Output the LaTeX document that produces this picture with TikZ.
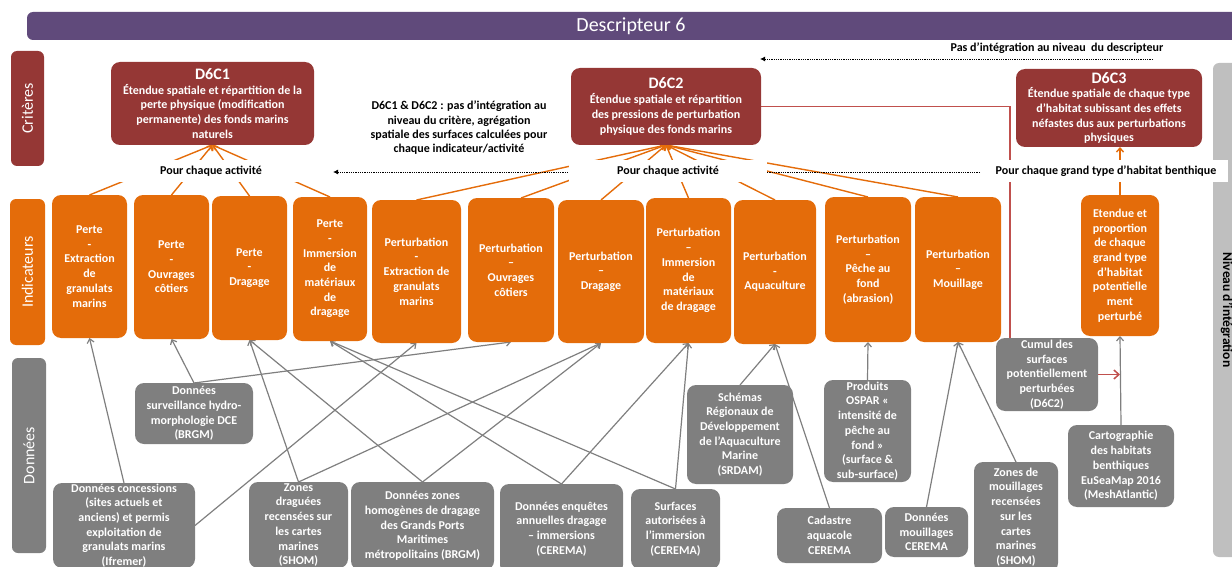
\documentclass[tikz,border=0pt]{standalone}
\usepackage{fontspec}
\setmainfont{Carlito}
\usetikzlibrary{arrows.meta,backgrounds,calc}
\definecolor{crit}{HTML}{953735}
\definecolor{ind}{HTML}{E46C0A}
\definecolor{dat}{HTML}{7F7F7F}
\definecolor{hdr}{HTML}{604A7B}
\definecolor{side}{HTML}{BFBFBF}
\definecolor{redl}{HTML}{C0504D}
\newcommand\ttlf{\fontsize{16}{18}\selectfont}
\newcommand\bx[7]{\node[#2, minimum width={#5-#3}, minimum height={#6-#4}] (#1) at ({(#3+#5)/2},{(#4+#6)/2}) {#7};}
\begin{document}
\begin{tikzpicture}[x=1pt,y=-1pt,
 every node/.style={inner sep=0pt, outer sep=0pt},
 box/.style={rounded corners=9pt, text=white, font=\bfseries\fontsize{12}{14.7}\selectfont, align=center},
 critbox/.style={box, fill=crit},
 indbox/.style={box, fill=ind},
 datbox/.style={box, fill=dat},
 sidebox/.style={rounded corners=6pt},
 sidetext/.style={text=white, font=\fontsize{16}{18}\selectfont, rotate=90},
 lab/.style={fill=white, font=\bfseries\fontsize{12}{14}\selectfont, minimum height=22pt},
 note/.style={font=\bfseries\fontsize{12}{14.3}\selectfont, align=center},
 oarr/.style={draw=ind, line width=1.4pt, -{Straight Barb[length=4pt,width=7pt]}},
 garr/.style={draw=dat, line width=1.2pt, -{Straight Barb[length=4pt,width=7pt]}},
 rline/.style={draw=redl, line width=1.5pt},
 rarr/.style={rline, -{Straight Barb[length=5pt,width=9pt]}},
 dotl/.style={draw=black, line width=0.9pt, dash pattern=on 0.9pt off 0.9pt, -{Latex[length=5pt,width=5pt]}},
]
\useasboundingbox (0,0) rectangle (1232,567);
\clip (0,0) rectangle (1232,567);

% header
\bx{hdr}{fill=hdr, sidebox}{27}{12}{1245}{40}{}
\node[text=white, font=\fontsize{20}{24}\selectfont] (hdrt) at (631,26) {Descripteur 6};

% side labels
\bx{lc}{fill=crit, sidebox}{11}{51}{44}{166}{}
\node[sidetext] (lct) at (lc) {Critères};
\bx{li}{fill=ind, sidebox}{10}{199}{45}{345}{}
\node[sidetext] (lit) at (li) {Indicateurs};
\bx{ld}{fill=dat, sidebox}{12}{358}{46}{553}{}
\node[sidetext] (ldt) at (ld) {Données};
\bx{rs}{fill=side, sidebox}{1213}{63}{1250}{557}{}
\node[rotate=-90, font=\bfseries\fontsize{13.5}{16}\selectfont] (rst) at (1227,310) {Niveau d’intégration};

% criteria
\bx{c1}{critbox}{111}{62}{314}{145}{{\ttlf D6C1}\\Étendue spatiale et répartition de la\\perte physique (modification\\permanente) des fonds marins\\naturels}
\bx{c2}{critbox}{571}{68}{761}{145}{{\ttlf D6C2}\\Étendue spatiale et répartition\\des pressions de perturbation\\physique des fonds marins}
\bx{c3}{critbox}{1016}{69}{1202}{147}{{\ttlf D6C3}\\Étendue spatiale de chaque type\\d'habitat subissant des effets\\néfastes dus aux perturbations\\physiques}

% indicators
\bx{I1}{indbox}{52}{195}{127}{338}{Perte\\-\\Extraction\\de\\granulats\\marins}
\bx{I2}{indbox}{134}{195}{209}{339}{Perte\\-\\Ouvrages\\côtiers}
\bx{I3}{indbox}{212}{196}{287}{340}{Perte\\-\\Dragage}
\bx{I4}{indbox}{293}{197}{367}{341}{Perte\\-\\Immersion\\de\\matériaux\\de\\dragage}
\bx{I5}{indbox}{372}{200}{461}{343}{Perturbation\\-\\Extraction de\\granulats\\marins}
\bx{I6}{indbox}{468}{198}{554}{342}{Perturbation\\–\\Ouvrages\\côtiers}
\bx{I7}{indbox}{558}{200}{644}{343}{Perturbation\\–\\Dragage}
\bx{I8}{indbox}{646}{198}{731}{343}{Perturbation\\–\\Immersion\\de\\matériaux\\de dragage}
\bx{I9}{indbox}{734}{200}{816}{344}{Perturbation\\-\\Aquaculture}
\bx{I10}{indbox}{825}{197}{911}{342}{Perturbation\\–\\Pêche au\\fond\\(abrasion)}
\bx{I11}{indbox}{915}{197}{1001}{342}{Perturbation\\–\\Mouillage}
\bx{I12}{indbox}{1081}{195}{1159}{336}{Etendue et\\proportion\\de chaque\\grand type\\d’habitat\\potentielle\\ment\\perturbé}

% data
\bx{Dh}{datbox}{135}{383}{253}{444}{Données\\surveillance hydro-\\morphologie DCE\\(BRGM)}
\bx{Dc}{datbox}{53}{483}{195}{568}{Données concessions\\(sites actuels et\\anciens) et permis\\exploitation de\\granulats marins\\(Ifremer)}
\bx{Dz}{datbox}{249}{482}{348}{568}{Zones\\draguées\\recensées sur\\les cartes\\marines\\(SHOM)}
\bx{Dg}{datbox}{351}{482}{494}{570}{Données zones\\homogènes de dragage\\des Grands Ports\\Maritimes\\métropolitains (BRGM)}
\bx{De}{datbox}{500}{484}{623}{574}{Données enquêtes\\annuelles  dragage\\– immersions\\(CEREMA)}
\bx{Ds}{datbox}{631}{489}{720}{569}{Surfaces\\autorisées à\\l’immersion\\(CEREMA)}
\bx{Dsr}{datbox}{687}{385}{793}{484}{Schémas\\Régionaux de\\Développement\\de l’Aquaculture\\Marine\\(SRDAM)}
\bx{Dca}{datbox}{777}{508}{882}{563}{Cadastre\\aquacole\\CEREMA}
\bx{Dp}{datbox}{824}{380}{911}{482}{Produits\\OSPAR «\\intensité de\\pêche au\\fond »\\(surface \&\\sub-surface)}
\bx{Dm}{datbox}{885}{507}{968}{557}{Données\\mouillages\\CEREMA}
\bx{Dzm}{datbox}{974}{462}{1058}{572}{Zones de\\mouillages\\recensées\\sur les\\cartes\\marines\\(SHOM)}
\bx{Dcu}{datbox}{996}{338}{1098}{411}{Cumul des\\surfaces\\potentiellement\\perturbées\\(D6C2)}
\bx{Dct}{datbox}{1068}{425}{1174}{507}{Cartographie\\des habitats\\benthiques\\EuSeaMap 2016\\(MeshAtlantic)}

% labels and notes
\node[lab, minimum width=200pt] (l1) at (211,171) {Pour chaque activité};
\node[lab, minimum width=198pt] (l2) at (668,171) {Pour chaque activité};
\node[lab, minimum width=244pt] (l3) at (1106,171) {Pour chaque grand type d’habitat benthique};
\node[note] (t1) at (459,128) {D6C1 \& D6C2 : pas d’intégration au\\niveau du critère, agrégation\\spatiale des surfaces calculées pour\\chaque indicateur/activité};
\node[note] (t2) at (1057,48) {Pas d’intégration au niveau\ \ du descripteur};
\coordinate (pa) at (1153,59);
\coordinate (pb) at (760,59);
\coordinate (pc) at (980,172);
\coordinate (pd) at (333,172);

\begin{scope}[on background layer]
% orange
\foreach \i in {I1,I2,I3,I4} \draw[oarr] (\i.north) -- (c1.south);
\foreach \i in {I5,I7,I8,I9,I10,I11} \draw[oarr] (\i.north) -- (c2.south);
\draw[oarr] ([xshift=10pt]I6.north) -- (c2.south);
\draw[oarr] (I12.north) -- (I12.north |- c3.south);
% grey
\draw[garr] (Dc.north) -- (I1.south);
\draw[garr] (Dc.east) -- (I5.south);
\draw[garr] (Dh.north) -- (I2.south);
\draw[garr] (Dh.north) -- (I6.south);
\draw[garr] (Dz.north) -- (I3.south);
\draw[garr] (Dz.north) -- (I7.south);
\draw[garr] (Dg.north) -- (I3.south);
\draw[garr] (Dg.north) -- (I7.south);
\draw[garr] (De.north) -- (I4.south);
\draw[garr] (De.north) -- (I8.south);
\draw[garr] (Ds.north) -- (I4.south);
\draw[garr] (Ds.north) -- (I8.south);
\draw[garr] (Dsr.north) -- (I9.south);
\draw[garr] (Dca.north) -- (I9.south);
\draw[garr] (Dp.north) -- (I10.south);
\draw[garr] (Dm.north) -- (I11.south);
\draw[garr] (Dzm.north) -- (I11.south);
\draw[garr] (Dct.north) -- (I12.south);
% red
\draw[rline] (c2.east) -| ([xshift=14pt]Dcu.north west);
\draw[rarr] (Dcu.east) -- (Dcu.east -| I12.south);
% dotted
\draw[dotl] (pa) -- (pb);
\draw[dotl] (pc) -- (pd);
\end{scope}
\end{tikzpicture}
\end{document}
